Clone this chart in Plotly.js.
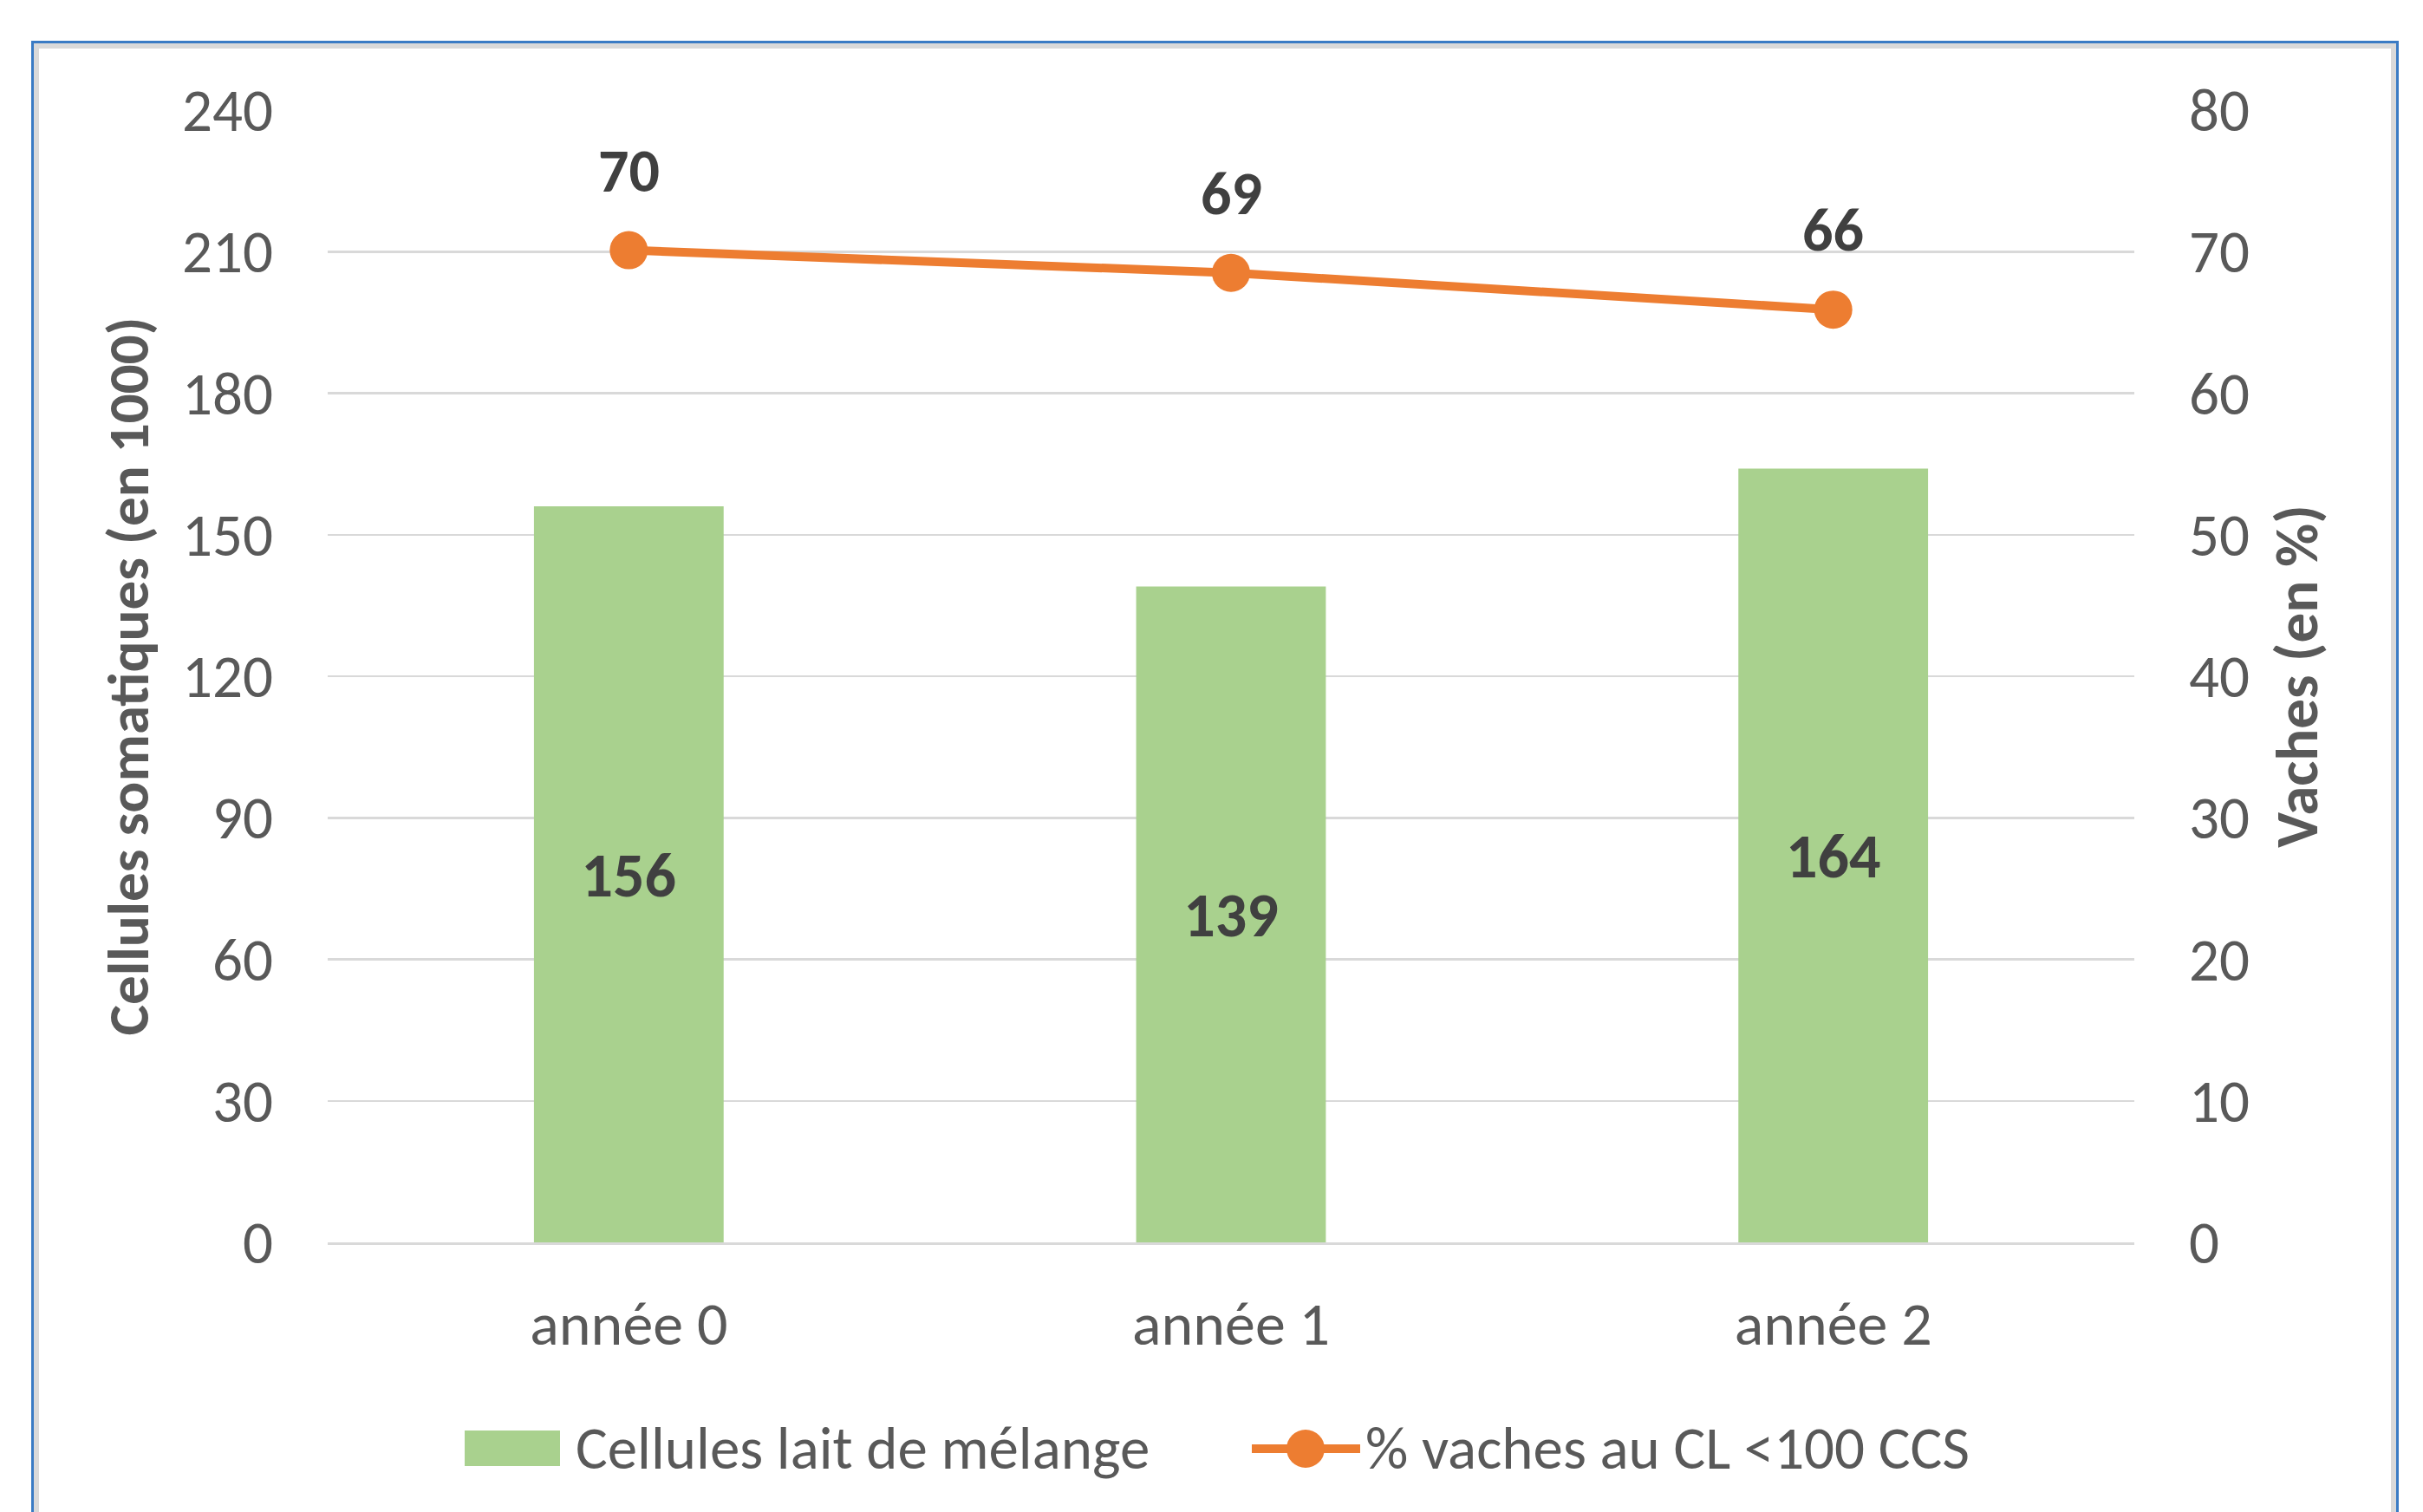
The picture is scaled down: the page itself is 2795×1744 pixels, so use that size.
<!DOCTYPE html>
<html><head><meta charset="utf-8">
<script src="https://cdn.plot.ly/plotly-3.0.1.min.js"></script>
<style>
html,body{margin:0;padding:0;background:#fff;overflow:hidden;}
#frame{position:absolute;left:36px;top:47px;width:2725px;height:1800px;border:3px solid #3A7BC4;box-shadow:inset 0 0 0 6px #D9D9D9;}
#chart{position:absolute;left:0;top:0;width:2795px;height:1744px;}
</style></head><body>
<div id="frame"></div><div id="chart"></div>
<script>
// ---- data ----
const categories = ['année 0', 'année 1', 'année 2'];
const cellules = [156, 139, 164];
const pctVaches = [70.1, 68.5, 65.9];
const pctLabels = ['70', '69', '66'];
const seriesNames = ['Cellules lait de mélange', '% vaches au CL <100 CCS'];
const leftTicks = [0, 30, 60, 90, 120, 150, 180, 210, 240];
const rightTicks = [0, 10, 20, 30, 40, 50, 60, 70, 80];

// ---- style ----
const FONT = 'Carlito, Lato, "Open Sans", sans-serif';
const GREEN = '#A9D18E', ORANGE = '#ED7D31', TXT = '#595959', LBL = '#404040';
const M = {l: 378, r: 333, t: 127, b: 311};
const PW = 2795 - M.l - M.r, PH = 1744 - M.t - M.b;
const px = v => (v - M.l) / PW;
const py = v => (1744 - M.b - v) / PH;

const bars = {
  type: 'bar', x: categories, y: cellules, name: seriesNames[0],
  marker: {color: GREEN, line: {width: 0}},
  text: cellules.map(String), textposition: 'inside', insidetextanchor: 'middle',
  textangle: 0, constraintext: 'none',
  textfont: {family: FONT, size: 72, color: LBL, weight: 'bold'},
  hoverinfo: 'skip'
};
const line = {
  type: 'scatter', mode: 'lines+markers', x: categories, y: pctVaches, yaxis: 'y2',
  name: seriesNames[1],
  line: {color: ORANGE, width: 10}, marker: {color: ORANGE, size: 44},
  hoverinfo: 'skip'
};

const annotations = categories.map((c, i) => ({
  x: c, y: pctVaches[i], xref: 'x', yref: 'y2', text: pctLabels[i],
  showarrow: false, yshift: 92,
  font: {family: FONT, size: 70, color: LBL, weight: 'bold'}
}));
annotations.push(
  {xref: 'paper', yref: 'paper', x: px(662), y: py(1670), xanchor: 'left', yanchor: 'middle',
   text: seriesNames[0], showarrow: false, font: {family: FONT, size: 69, color: TXT}},
  {xref: 'paper', yref: 'paper', x: px(1573), y: py(1670), xanchor: 'left', yanchor: 'middle',
   text: seriesNames[1], showarrow: false, font: {family: FONT, size: 69, color: TXT}}
);
const shapes = [
  {type: 'rect', xref: 'paper', yref: 'paper', x0: px(536), x1: px(646), y0: py(1691), y1: py(1650),
   fillcolor: GREEN, line: {width: 0}},
  {type: 'line', xref: 'paper', yref: 'paper', x0: px(1444), x1: px(1569), y0: py(1671), y1: py(1671),
   line: {color: ORANGE, width: 10}},
  {type: 'circle', xref: 'paper', yref: 'paper', x0: px(1484), x1: px(1528), y0: py(1693), y1: py(1649),
   fillcolor: ORANGE, line: {width: 0}}
];

const layout = {
  width: 2795, height: 1744, margin: Object.assign({pad: 0}, M),
  paper_bgcolor: 'rgba(0,0,0,0)', plot_bgcolor: 'rgba(0,0,0,0)',
  showlegend: false, bargap: 0.685,
  font: {family: FONT, color: TXT},
  xaxis: {type: 'category', showgrid: false, showline: true, linecolor: '#D9D9D9', linewidth: 3,
          ticks: '', tickfont: {size: 70, color: TXT}, ticklabelstandoff: 31, fixedrange: true},
  yaxis: {range: [0, 240], tickmode: 'array', tickvals: leftTicks, showgrid: true, gridcolor: '#D9D9D9',
          gridwidth: 2.5, zeroline: false, showline: false, ticks: '', ticklabelstandoff: 62,
          tickfont: {size: 69, color: TXT},
          title: {text: 'Cellules somatiques (en 1000)', standoff: 16,
                  font: {size: 67, color: TXT, weight: 'bold'}}},
  yaxis2: {range: [0, 80], overlaying: 'y', side: 'right', tickmode: 'array', tickvals: rightTicks,
           showgrid: false, zeroline: false, showline: false, ticks: '', ticklabelstandoff: 62,
           tickfont: {size: 69, color: TXT},
           title: {text: 'Vaches (en %)', standoff: 30,
                   font: {size: 69, color: TXT, weight: 'bold'}}},
  annotations: annotations, shapes: shapes
};
Plotly.newPlot('chart', [bars, line], layout, {staticPlot: true, displayModeBar: false});
</script></body></html>
